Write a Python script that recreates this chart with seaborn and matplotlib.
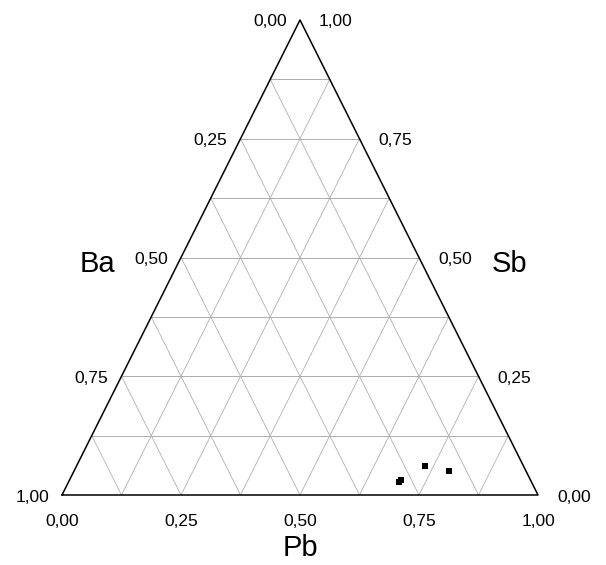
import numpy as np
import pandas as pd
import matplotlib
matplotlib.use("Agg")
import matplotlib.pyplot as plt
import seaborn as sns

# composition fractions
pb = [0.693, 0.697, 0.732, 0.788]
sb = [0.028, 0.032, 0.062, 0.051]
ba = [1 - p - s for p, s in zip(pb, sb)]

ticks = [0.0, 0.25, 0.5, 0.75, 1.0]
tick_labels = ["0,00", "0,25", "0,50", "0,75", "1,00"]
grid_steps = [i / 8 for i in range(1, 8)]


def to_xy(p, s):
    # Pb to the right, Sb up, Ba at bottom-left corner
    return p + s / 2, s


sns.set_style("white")
plt.rcParams['font.family'] = ['Liberation Sans', 'DejaVu Sans']
plt.rcParams['text.color'] = 'black'

fig = plt.figure(figsize=(6.06, 5.65), dpi=100)
ax = fig.add_axes([0, 0, 1, 1])
ax.set_xlim(-62 / 476, (606 - 62) / 476)
ax.set_ylim(-70 / 475, (565 - 70) / 475)
ax.axis("off")

# grid lines, one family per component
for g in grid_steps:
    # constant Sb
    x0, y0 = to_xy(0, g)
    x1, y1 = to_xy(1 - g, g)
    ax.plot([x0, x1], [y0, y1], color="#a0a0a0", lw=0.6, zorder=1)
    # constant Pb
    x0, y0 = to_xy(g, 0)
    x1, y1 = to_xy(g, 1 - g)
    ax.plot([x0, x1], [y0, y1], color="#b0b0b0", lw=0.6, zorder=1)
    # constant Ba
    x0, y0 = to_xy(1 - g, 0)
    x1, y1 = to_xy(0, 1 - g)
    ax.plot([x0, x1], [y0, y1], color="#b0b0b0", lw=0.6, zorder=1)

# triangle outline
corners = [to_xy(0, 0), to_xy(1, 0), to_xy(0, 1), to_xy(0, 0)]
ax.plot([c[0] for c in corners], [c[1] for c in corners], color="black", lw=1.1, zorder=2)

# tick labels
fs = 12.5
for t, lab in zip(ticks, tick_labels):
    # bottom: Pb
    x, y = to_xy(t, 0)
    ax.annotate(lab, (x, y), xytext=(0, -27), textcoords="offset pixels",
                ha="center", va="center", fontsize=fs)
    # left: Ba (0 at top, 1 at bottom)
    x, y = to_xy(0, 1 - t)
    ax.annotate(lab, (x, y), xytext=(-13, -2), textcoords="offset pixels",
                ha="right", va="center", fontsize=fs)
    # right: Sb (0 at bottom, 1 at top)
    x, y = to_xy(1 - t, t)
    ax.annotate(lab, (x, y), xytext=(19, -2), textcoords="offset pixels",
                ha="left", va="center", fontsize=fs)

# axis titles
ax.annotate("Pb", to_xy(0.5, 0), xytext=(0, -53), textcoords="offset pixels",
            ha="center", va="center", fontsize=21)
ax.annotate("Ba", to_xy(0, 0.5), xytext=(-84, -6), textcoords="offset pixels",
            ha="center", va="center", fontsize=21)
ax.annotate("Sb", to_xy(0.5, 0.5), xytext=(90, -6), textcoords="offset pixels",
            ha="center", va="center", fontsize=21)

pts = pd.DataFrame({"x": [to_xy(p, s)[0] for p, s in zip(pb, sb)],
                    "y": [to_xy(p, s)[1] for p, s in zip(pb, sb)]})
sns.scatterplot(data=pts, x="x", y="y", ax=ax, marker="s", s=18,
                color="black", edgecolor="black", linewidth=0, zorder=3)

fig.savefig("out.png", dpi=100)
